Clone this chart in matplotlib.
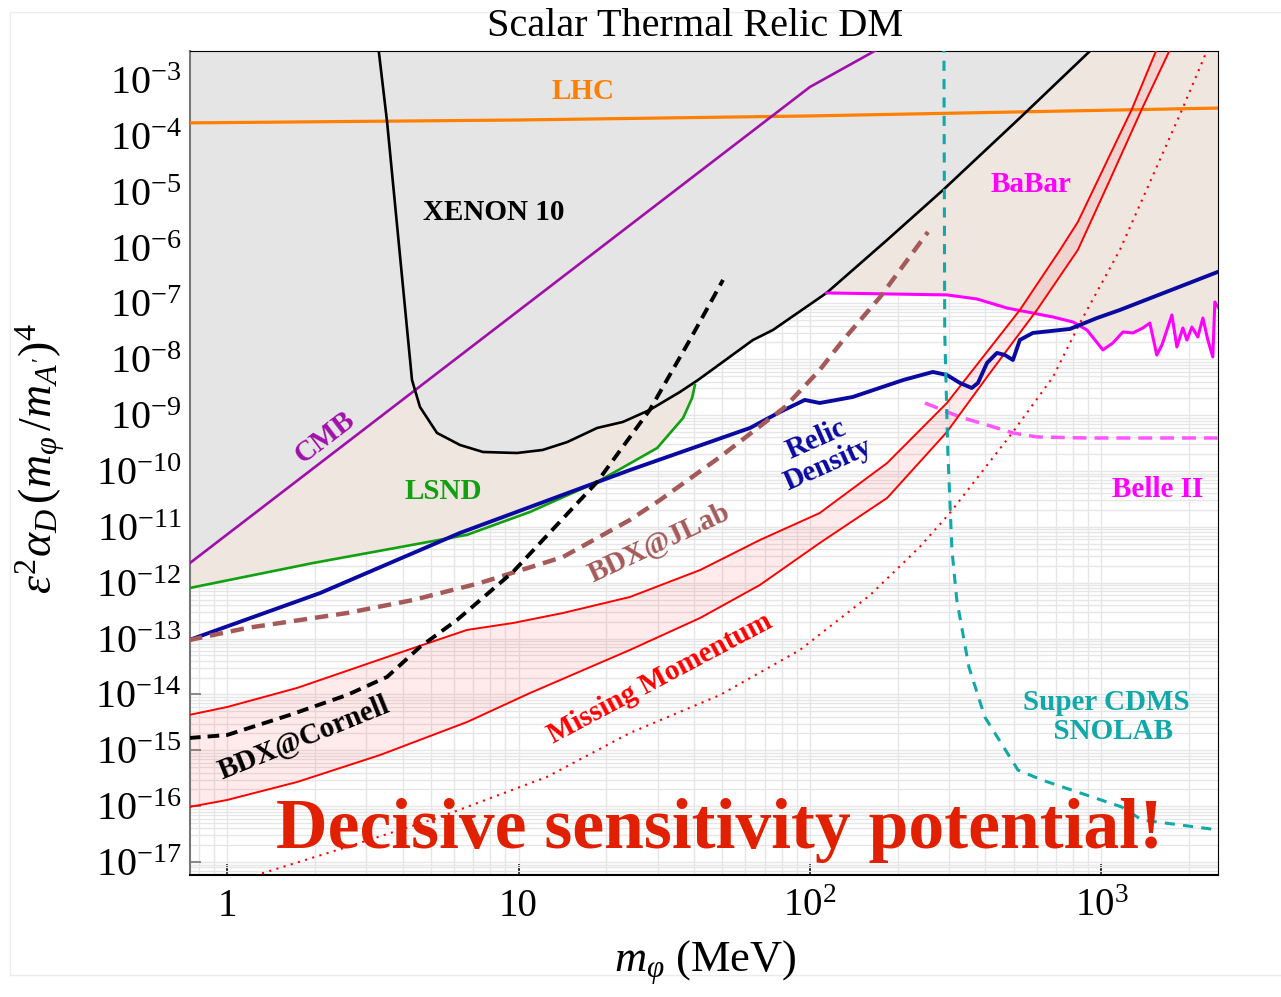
import numpy as np
import matplotlib.pyplot as plt
from matplotlib.ticker import FixedLocator, LogLocator, NullFormatter, FixedFormatter
from matplotlib.patches import Rectangle

plt.rcParams['font.family'] = 'serif'
plt.rcParams['font.serif'] = ['Liberation Serif', 'DejaVu Serif']
plt.rcParams['mathtext.fontset'] = 'custom'
plt.rcParams['mathtext.rm'] = 'Liberation Serif'
plt.rcParams['mathtext.it'] = 'Liberation Serif:italic'
plt.rcParams['mathtext.bf'] = 'Liberation Serif:bold'

# ---- data (m in MeV, y = eps^2 alpha_D (m/mA')^4) ----
lhc_x = [0.7, 10, 100, 500, 2600]
lhc_y = [1.70e-4, 1.92e-4, 2.27e-4, 2.67e-4, 3.15e-4]

cmb_x = [0.7, 100, 250]
cmb_y = [1.75e-12, 7.5e-4, 1.07e-2]

xenon_x = [3.30, 3.54, 4.18, 4.31, 4.59, 5.25, 6.3, 7.55, 9.88, 12.1, 14.7, 18.6,
           22.8, 28.2, 35.8, 41.3, 63.7, 74.6, 114, 184, 286, 525, 914, 1470]
xenon_y = [4.0e-3, 1.77e-4, 2.21e-8, 4.26e-9, 1.40e-9, 4.8e-10, 2.92e-10, 2.19e-10,
           2.10e-10, 2.38e-10, 3.30e-10, 5.89e-10, 7.55e-10, 1.24e-9, 2.60e-9, 4.26e-9,
           2.21e-8, 3.34e-8, 1.54e-7, 1.37e-6, 1.07e-5, 2.09e-4, 3.3e-3, 1.6e-2]

lsnd_x = [0.74, 1.97, 6.66, 10.95, 18.6, 23.6, 29.9, 36.7, 39.4, 40.3]
lsnd_y = [8.0e-13, 2.25e-12, 7.2e-12, 1.85e-11, 6.35e-11, 1.28e-10, 2.58e-10,
          8.9e-10, 2.03e-9, 3.47e-9]

babar_x = [114, 295, 374, 474, 682, 799, 892, 1012, 1095, 1185, 1282, 1387, 1466,
           1549, 1613, 1745, 1815, 1903, 1965, 2044, 2142, 2229, 2318, 2411, 2450, 2512]
babar_y = [1.54e-7, 1.42e-7, 1.20e-7, 8.28e-8, 5.71e-8, 4.65e-8, 3.34e-8, 1.47e-8,
           1.96e-8, 3.08e-8, 2.96e-8, 3.63e-8, 4.46e-8, 1.19e-8, 1.80e-8, 6.21e-8,
           1.66e-8, 3.63e-8, 2.21e-8, 3.78e-8, 2.51e-8, 5.48e-8, 2.21e-8, 1.10e-8,
           1.06e-7, 8.63e-8]

relic_x = [0.74, 2.08, 6.3, 24.1, 62.3, 78.9, 96, 108, 140, 209, 264, 295, 327, 359,
           377, 405, 438, 467, 497, 525, 582, 780, 966, 1157, 2520]
relic_y = [9.4e-14, 6.5e-13, 7.8e-12, 1.04e-10, 5.9e-10, 1.14e-9, 1.87e-9, 1.65e-9,
           2.11e-9, 4.26e-9, 5.93e-9, 5.24e-9, 3.77e-9, 3.06e-9, 3.77e-9, 8.6e-9,
           1.30e-8, 1.19e-8, 9.7e-9, 2.22e-8, 2.96e-8, 3.49e-8, 5.48e-8, 7.63e-8, 3.7e-7]

jlab_x = [0.74, 1.17, 2.58, 4.35, 7.38, 14.2, 24.1, 30.6, 49.1, 82.1, 108, 130, 174, 254]
jlab_y = [9.4e-14, 1.55e-13, 2.87e-13, 4.91e-13, 9.89e-13, 2.89e-12, 1.33e-11,
          3.03e-11, 1.78e-10, 1.40e-9, 6.43e-9, 2.21e-8, 1.30e-7, 1.90e-6]

cornell_x = [0.74, 1.0, 1.64, 2.58, 3.54, 4.59, 6.15, 9.57, 18.6, 28.2, 38.7, 50.3]
cornell_y = [1.66e-15, 1.88e-15, 4.29e-15, 9.77e-15, 2.06e-14, 7.08e-14, 2.15e-13,
             1.56e-12, 6.35e-11, 1.24e-9, 2.21e-8, 2.63e-7]

mm_up_x = [0.74, 1.0, 1.74, 3.71, 6.66, 9.57, 14.2, 24.1, 42.0, 67.3, 108, 184, 295,
           525, 721, 830, 1273, 1563]
mm_up_y = [4.29e-15, 5.96e-15, 1.31e-14, 5.09e-14, 1.43e-13, 1.90e-13, 2.87e-13,
           5.55e-13, 1.69e-12, 5.82e-12, 1.77e-11, 1.39e-10, 1.65e-9, 7.64e-8,
           9.06e-7, 2.87e-6, 3.03e-4, 4.0e-3]

mm_lo_x = [0.74, 1.0, 1.74, 3.35, 6.66, 10.95, 24.1, 42.0, 67.3, 108, 184, 295, 405,
           601, 830, 1069, 1377, 1740]
mm_lo_y = [9.66e-17, 1.29e-16, 2.71e-16, 8.24e-16, 3.21e-15, 1.06e-14, 6.25e-14,
           2.34e-13, 9.1e-13, 5.14e-12, 3.29e-11, 4.99e-10, 4.82e-9, 7.64e-8,
           9.06e-7, 1.62e-5, 3.03e-4, 4.0e-3]

mm_dot_x = [1.0, 1.27, 2.58, 5.38, 12.5, 24.1, 49.1, 92.4, 161, 238, 302, 497, 682,
            844, 1157, 1889, 2300]
mm_dot_y = [2.0e-18, 5.9e-18, 1.86e-17, 6.4e-17, 3.33e-16, 2.04e-15, 9.77e-15,
            6.25e-14, 6.04e-13, 4.37e-12, 1.77e-11, 4.99e-10, 4.82e-9, 4.47e-8,
            9.06e-7, 2.90e-4, 3.3e-3]

cdms_x = [288, 290, 297, 307, 319, 351, 398, 517, 625, 1175, 1377, 2520]
cdms_y = [1e-2, 2.96e-8, 2.38e-10, 3.85e-12, 4.91e-13, 3.10e-14, 3.95e-15, 4.45e-16,
          2.94e-16, 9.66e-17, 5.66e-17, 3.75e-17]

belle_x = [248, 327, 405, 497, 601, 892, 2520]
belle_y = [1.65e-9, 9.27e-10, 6.67e-10, 4.80e-10, 4.07e-10, 3.90e-10, 3.90e-10]

x_ticks = [1, 10, 100, 1000]
x_ticklabels = ['1', '10', r'$10^2$', r'$10^3$']
y_exps = list(range(-17, -2))

TOP = 1.0

fig = plt.figure(figsize=(12.81, 9.97), dpi=100)
ax = fig.add_axes([190 / 1281, 122 / 997, 1028 / 1281, 824 / 997])
ax.set_xscale('log')
ax.set_yscale('log')
ax.set_xlim(0.746, 2512)
ax.set_ylim(5.86e-18, 3.3e-3)

ax.set_axisbelow(True)
ax.grid(True, which='both', color='#e6e6e6', lw=1.0)

# shaded exclusion regions
beige = '#efe6e0'
gray = '#e5e5e5'
ax.fill_between(lsnd_x, lsnd_y, TOP, color=beige, lw=0, zorder=1)
ax.fill_between(babar_x, babar_y, TOP, color=beige, lw=0, zorder=1)
ax.fill_between(cmb_x, cmb_y, TOP, color=gray, lw=0, zorder=1.5)
ax.fill_between(xenon_x, xenon_y, TOP, color=gray, lw=0, zorder=1.5)
ax.fill(np.concatenate([mm_up_x, mm_lo_x[::-1]]),
        np.concatenate([mm_up_y, mm_lo_y[::-1]]),
        color='red', alpha=0.08, lw=0, zorder=2)

# curves
ax.plot(lhc_x, lhc_y, color='#ff8000', lw=2.3, zorder=4)
ax.plot(cmb_x, cmb_y, color='#a010a8', lw=1.9, zorder=4)
ax.plot(xenon_x, xenon_y, color='black', lw=1.9, zorder=4)
ax.plot(lsnd_x, lsnd_y, color='#10a010', lw=1.9, zorder=4)
ax.plot(babar_x, babar_y, color='#ff00ff', lw=2.2, zorder=4)
ax.plot(belle_x, belle_y, color='#ff55ff', lw=2.5, dashes=(4, 2.3), zorder=4)
ax.plot(mm_up_x, mm_up_y, color='#ff0000', lw=1.4, zorder=4)
ax.plot(mm_lo_x, mm_lo_y, color='#ff0000', lw=1.4, zorder=4)
ax.plot(mm_dot_x, mm_dot_y, color='#ff0000', lw=1.5, dashes=(1, 2.6), zorder=4)
ax.plot(relic_x, relic_y, color='#0a0aa0', lw=2.8, zorder=5)
ax.plot(jlab_x, jlab_y, color='#a55a5a', lw=3.2, dashes=(3, 1.8), zorder=5)
ax.plot(cornell_x, cornell_y, color='black', lw=2.8, dashes=(3, 1.8), zorder=5)
ax.plot(cdms_x, cdms_y, color='#10a8a8', lw=2.2, dashes=(3.3, 2.7), zorder=5)

# labels on the plot
lab = dict(fontsize=21, fontweight='bold', ha='center', va='center', zorder=6)
ax.text(16.6, 6.1e-4, 'LHC', color='#ff8000', **lab)
ax.text(8.24, 4.16e-6, 'XENON 10', color='black', **lab)
ax.text(2.17, 4.07e-10, 'CMB', color='#a010a8', rotation=37.5, **lab)
ax.text(5.51, 4.21e-11, 'LSND', color='#10a010', **lab)
ax.text(573, 1.32e-5, 'BaBar', color='#ff00ff', **lab)
ax.text(110, 2.19e-10, 'Relic\nDensity', color='#0a0aa0', rotation=24, linespacing=1.0, **lab)
ax.text(1563, 4.57e-11, 'Belle II', color='#ff00ff', **lab)
ax.text(30.3, 5.14e-12, 'BDX@JLab', color='#a55a5a', rotation=25, **lab)
ax.text(30.6, 1.97e-14, 'Missing Momentum', color='#ff0000', rotation=28, **lab)
ax.text(1.84, 1.66e-15, 'BDX@Cornell', color='black', rotation=22, **lab)
ax.text(1040, 4.0e-15, 'Super CDMS\n  SNOLAB', color='#10a8a8', linespacing=1.1, **lab)
ax.text(49.1, 3.6e-17, 'Decisive sensitivity potential!', color='#e02000',
        fontsize=51.5, fontweight='bold', ha='center', va='center', zorder=6)

# axes styling
ax.xaxis.set_major_locator(FixedLocator(x_ticks))
ax.xaxis.set_major_formatter(FixedFormatter(x_ticklabels))
ax.xaxis.set_minor_locator(LogLocator(base=10, subs=np.arange(2, 10), numticks=20))
ax.xaxis.set_minor_formatter(NullFormatter())
ax.yaxis.set_major_locator(FixedLocator([10.0 ** e for e in y_exps]))
ax.yaxis.set_major_formatter(FixedFormatter([r'$10^{%d}$' % e for e in y_exps]))
ax.yaxis.set_minor_locator(LogLocator(base=10, subs=np.arange(2, 10), numticks=40))
ax.yaxis.set_minor_formatter(NullFormatter())

ax.tick_params(axis='x', which='major', direction='in', length=8, width=1.2,
               labelsize=28, pad=9, top=False)
ax.tick_params(axis='y', which='major', direction='in', length=8, width=1.2,
               color='#777777', labelsize=29, pad=6, right=False)
ax.tick_params(which='minor', length=0)
for s in ['top', 'right', 'bottom']:
    ax.spines[s].set_color('black')
ax.spines['left'].set_color('#777777')
ax.spines['left'].set_linewidth(1.5)
ax.spines['bottom'].set_linewidth(1.5)

fig.text(695 / 1281, 1 - 26 / 997, 'Scalar Thermal Relic DM', fontsize=29,
         ha='center', va='center')
fig.text(705 / 1281, 1 - 963 / 997, r'$m_\varphi$ (MeV)', fontsize=32,
         ha='center', va='center')
fig.text(40 / 1281, 1 - 458 / 997, r"$\epsilon^2\alpha_D\,(m_\varphi\,/m_{A'})^4$",
         fontsize=33, rotation=90, ha='center', va='center')

fig.patches.append(Rectangle((10 / 1281, 1 - 975 / 997), 1.0, 963 / 997,
                             transform=fig.transFigure, fill=False,
                             edgecolor='#ececec', lw=1, zorder=0))

fig.savefig('out.png', dpi=100)
